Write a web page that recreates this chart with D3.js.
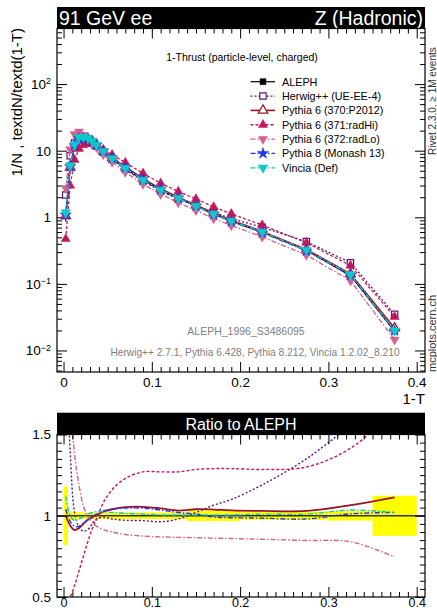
<!DOCTYPE html>
<html>
<head>
<meta charset="utf-8">
<script src="https://cdn.jsdelivr.net/npm/d3@7"></script>
<style>
  body { margin: 0; background: #fff; }
  text { font-family: "Liberation Sans", Arial, Helvetica, sans-serif; }
</style>
</head>
<body>
<svg id="chart" width="437" height="611"></svg>
<script>
// Bin edges and centres of 1-T
const binEdges = [0, 0.005, 0.01, 0.015, 0.02, 0.025, 0.03, 0.035, 0.04, 0.05, 0.06, 0.08, 0.10, 0.12, 0.14, 0.16, 0.18, 0.20, 0.25, 0.30, 0.35, 0.40];
const xCenters = [0.0025, 0.0075, 0.0125, 0.0175, 0.0225, 0.0275, 0.0325, 0.0375, 0.045, 0.055, 0.07, 0.09, 0.11, 0.13, 0.15, 0.17, 0.19, 0.225, 0.275, 0.325, 0.375];

// ALEPH data and relative uncertainty
const alephValues = [1.05, 6.0, 12.8, 16.2, 16.2, 15.4, 13.8, 12.0, 9.6, 7.5, 5.4, 3.6, 2.56, 1.92, 1.47, 1.11, 0.875, 0.595, 0.32, 0.133, 0.0194];
const alephRelErr = [0.18, 0.028, 0.025, 0.022, 0.02, 0.02, 0.02, 0.02, 0.02, 0.02, 0.02, 0.02, 0.02, 0.02, 0.033, 0.033, 0.033, 0.025, 0.025, 0.03, 0.123];

// MC / ALEPH ratios
const herwigRatio = [2.06, 1.4, 1.02, 0.93, 0.905, 0.915, 0.95, 0.98, 0.99, 0.98, 0.972, 0.97, 0.963, 0.98, 1.02, 1.065, 1.10, 1.19, 1.35, 1.56, 1.8];
const py6Ratio    = [1.0, 0.94, 0.912, 0.925, 0.95, 0.975, 0.99, 1.005, 1.025, 1.04, 1.053, 1.055, 1.045, 1.032, 1.04, 1.038, 1.033, 1.03, 1.03, 1.065, 1.113];
const radHiRatio  = [0.45, 0.50, 0.57, 0.66, 0.75, 0.84, 0.92, 0.98, 1.08, 1.16, 1.23, 1.27, 1.27, 1.27, 1.285, 1.29, 1.29, 1.285, 1.30, 1.415, 1.65];
const radLoRatio  = [2.6, 1.75, 1.38, 1.19, 1.06, 0.995, 0.96, 0.935, 0.915, 0.90, 0.885, 0.875, 0.87, 0.867, 0.865, 0.862, 0.86, 0.855, 0.848, 0.84, 0.747];
const py8Ratio    = [1.04, 0.965, 0.935, 0.935, 0.955, 0.975, 0.995, 1.01, 1.03, 1.04, 1.047, 1.047, 1.035, 1.02, 1.01, 0.992, 0.988, 0.985, 0.98, 1.012, 1.02];
const vinciaRatio = [1.12, 1.0, 0.97, 0.98, 0.995, 1.01, 1.02, 1.025, 1.025, 1.02, 1.015, 1.01, 1.005, 1.005, 1.005, 1.005, 1.005, 1.01, 1.01, 1.035, 1.02];

const mcNames = ["Herwig++ (UE-EE-4)", "Pythia 6 (370:P2012)", "Pythia 6 (371:radHi)", "Pythia 6 (372:radLo)", "Pythia 8 (Monash 13)", "Vincia (Def)"];

const xTicks = [0, 0.1, 0.2, 0.3, 0.4];
const yTicksMain = [0.01, 0.1, 1, 10, 100];
const yTicksRatio = [0.5, 1, 1.5];

// styles
const mcStyles = [
  { ratio: herwigRatio, color: "#551a80", dash: "2,2",     width: 1.3, sym: d3.symbolSquare,   size: 40, rot: 0,   open: true },
  { ratio: py6Ratio,    color: "#9a1426", dash: null,      width: 1.6, sym: d3.symbolTriangle, size: 40, rot: 0,   open: true },
  { ratio: radHiRatio,  color: "#c0185c", dash: "3,2",     width: 1.3, sym: d3.symbolTriangle, size: 36, rot: 0,   open: false },
  { ratio: radLoRatio,  color: "#d4608c", dash: "5,2,1.5,2", width: 1.3, sym: d3.symbolTriangle, size: 36, rot: 180, open: false },
  { ratio: py8Ratio,    color: "#2038e8", dash: "5,2,1.5,2", width: 1.3, sym: d3.symbolStar,     size: 40, rot: 0,   open: false },
  { ratio: vinciaRatio, color: "#10c8c8", dash: "5,2,1.5,2", width: 1.3, sym: d3.symbolTriangle, size: 40, rot: 180, open: false }
];
const mcSeries = mcNames.map((name, i) => ({
  name: name,
  ...mcStyles[i],
  values: alephValues.map((v, j) => v * mcStyles[i].ratio[j])
}));

const svg = d3.select("#chart");
const L = 57, R = 425;
const mainTop = 28.5, mainBot = 372;
const ratTop = 434.5, ratBot = 597;

const x = d3.scaleLinear().domain([-0.0074, 0.4094]).range([L, R]);
const y = d3.scaleLog().domain([0.00475, 684]).range([mainBot, mainTop]);
const yr = d3.scaleLinear().domain([0.5, 1.5]).range([ratBot, ratTop]);

const xMinor = d3.range(0, 41).map(i => i / 100).filter(v => !xTicks.includes(v));
const yMinorMain = [];
[-3, -2, -1, 0, 1, 2].forEach(e => {
  for (let k = 2; k <= 9; k++) {
    const v = k * Math.pow(10, e);
    if (v > 0.00475 && v < 684) yMinorMain.push(v);
  }
});
const yMinorRatio = d3.range(0, 21).map(i => 0.5 + i * 0.05).filter(v => ![0.5, 1, 1.5].some(t => Math.abs(t - v) < 1e-6));

function styleAxis(g) {
  g.select(".domain").remove();
  g.selectAll(".tick line").attr("stroke", "#000");
  g.selectAll(".tick text").attr("fill", "#000").attr("font-size", "13.5px")
    .attr("font-family", "Liberation Sans, Arial, sans-serif");
}

function logLabel(g) {
  g.selectAll(".tick text").each(function (d) {
    const e = Math.round(Math.log10(d));
    const t = d3.select(this).text("");
    if (e === 0) t.text("1");
    else if (e === 1) t.text("10");
    else {
      t.append("tspan").text("10");
      t.append("tspan").attr("dy", "-0.5em").attr("font-size", "9px").text(e < 0 ? "\u2212" + (-e) : e);
    }
  });
}

function drawFrameAxes(top, bot, yScale, yMajor, yMinor, xPad, yFormat) {
  // bottom
  const gb = svg.append("g").attr("transform", `translate(0,${bot})`)
    .call(d3.axisBottom(x).tickValues(xTicks).tickSize(-10).tickPadding(xPad).tickFormat(d3.format("")))
    .call(styleAxis);
  svg.append("g").attr("transform", `translate(0,${bot})`)
    .call(d3.axisBottom(x).tickValues(xMinor).tickSize(-5).tickFormat(""))
    .call(styleAxis);
  // top
  svg.append("g").attr("transform", `translate(0,${top})`)
    .call(d3.axisTop(x).tickValues(xTicks).tickSize(-10).tickFormat(""))
    .call(styleAxis);
  svg.append("g").attr("transform", `translate(0,${top})`)
    .call(d3.axisTop(x).tickValues(xMinor).tickSize(-5).tickFormat(""))
    .call(styleAxis);
  // left
  svg.append("g").attr("transform", `translate(${L},0)`)
    .call(d3.axisLeft(yScale).tickValues(yMajor).tickSize(-10).tickPadding(6).tickFormat(yFormat))
    .call(styleAxis)
    .attr("class", "yaxis");
  svg.append("g").attr("transform", `translate(${L},0)`)
    .call(d3.axisLeft(yScale).tickValues(yMinor).tickSize(-5).tickFormat(""))
    .call(styleAxis);
  // right
  svg.append("g").attr("transform", `translate(${R},0)`)
    .call(d3.axisRight(yScale).tickValues(yMajor).tickSize(-10).tickFormat(""))
    .call(styleAxis);
  svg.append("g").attr("transform", `translate(${R},0)`)
    .call(d3.axisRight(yScale).tickValues(yMinor).tickSize(-5).tickFormat(""))
    .call(styleAxis);
  svg.append("rect").attr("x", L).attr("y", top).attr("width", R - L).attr("height", bot - top)
    .attr("fill", "none").attr("stroke", "#000").attr("stroke-width", 1.2);
  return gb;
}

// ---------- main panel ----------
svg.append("rect").attr("x", L).attr("y", 7).attr("width", R - L).attr("height", 21.5).attr("fill", "#000");
svg.append("text").attr("x", L + 2).attr("y", 25).attr("fill", "#fff").attr("font-size", "19.5px").text("91 GeV ee");
svg.append("text").attr("x", R - 2).attr("y", 25).attr("fill", "#fff").attr("font-size", "19.5px")
  .attr("text-anchor", "end").text("Z (Hadronic)");

drawFrameAxes(mainTop, mainBot, y, yTicksMain, yMinorMain, 5, d => d);
svg.selectAll("g.yaxis").call(logLabel);

svg.append("text").attr("x", 242).attr("y", 61).attr("text-anchor", "middle").attr("font-size", "10.5px")
  .text("1-Thrust (particle-level, charged)");

const lineMain = d3.line().x((d, i) => x(xCenters[i])).y(d => y(d));

// ALEPH
svg.append("path").datum(alephValues).attr("d", lineMain)
  .attr("fill", "none").attr("stroke", "#000").attr("stroke-width", 1.2);
svg.append("g").selectAll("line").data(alephValues).enter().append("line")
  .attr("x1", (d, i) => x(xCenters[i])).attr("x2", (d, i) => x(xCenters[i]))
  .attr("y1", (d, i) => y(d * (1 + alephRelErr[i]))).attr("y2", (d, i) => y(d * (1 - alephRelErr[i])))
  .attr("stroke", "#000").attr("stroke-width", 1.2);
svg.append("g").selectAll("path").data(alephValues).enter().append("path")
  .attr("d", d3.symbol().type(d3.symbolSquare).size(36))
  .attr("transform", (d, i) => `translate(${x(xCenters[i])},${y(d)})`)
  .attr("fill", "#000");

mcSeries.forEach(s => {
  svg.append("path").datum(s.values).attr("d", lineMain)
    .attr("fill", "none").attr("stroke", s.color).attr("stroke-width", s.width)
    .attr("stroke-dasharray", s.dash);
  svg.append("g").selectAll("path").data(s.values).enter().append("path")
    .attr("d", d3.symbol().type(s.sym).size(s.size))
    .attr("transform", (d, i) => `translate(${x(xCenters[i])},${y(d)}) rotate(${s.rot})`)
    .attr("fill", s.open ? "#fff" : s.color).attr("stroke", s.color).attr("stroke-width", s.open ? 1.2 : 0.5);
});

// legend
const legendItems = [{ name: "ALEPH", color: "#000", dash: null, width: 1.2, sym: d3.symbolSquare, size: 36, rot: 0, open: false }].concat(mcSeries);
const leg = svg.append("g");
legendItems.forEach((s, i) => {
  const ly = 81.7 + i * 14.35;
  leg.append("line").attr("x1", 250.5).attr("x2", 275).attr("y1", ly).attr("y2", ly)
    .attr("stroke", s.color).attr("stroke-width", s.width).attr("stroke-dasharray", s.dash);
  leg.append("path").attr("d", d3.symbol().type(s.sym).size(s.size))
    .attr("transform", `translate(263,${ly}) rotate(${s.rot})`)
    .attr("fill", s.open ? "#fff" : s.color).attr("stroke", s.color).attr("stroke-width", s.open ? 1.2 : 0.5);
  leg.append("text").attr("x", 282).attr("y", ly + 4).attr("font-size", "10.8px").text(s.name);
});

svg.append("text").attr("x", 246).attr("y", 335).attr("text-anchor", "middle").attr("font-size", "10.5px")
  .attr("fill", "#808080").text("ALEPH_1996_S3486095");
svg.append("text").attr("x", 255).attr("y", 356).attr("text-anchor", "middle").attr("font-size", "10.2px")
  .attr("fill", "#808080").text("Herwig++ 2.7.1, Pythia 6.428, Pythia 8.212, Vincia 1.2.02_8.210");

// axis titles
svg.append("text").attr("transform", "translate(22,28) rotate(-90)").attr("text-anchor", "end")
  .attr("font-size", "15px").text("1/N , textdN/textd(1-T)");
svg.append("text").attr("x", R).attr("y", 404).attr("text-anchor", "end").attr("font-size", "15px").text("1-T");
svg.append("text").attr("transform", "translate(436,155) rotate(-90)").attr("text-anchor", "start")
  .attr("font-size", "10px").attr("fill", "#333").text("Rivet 2.3.0, \u2265 1M events");
svg.append("text").attr("transform", "translate(436,372) rotate(-90)").attr("text-anchor", "start")
  .attr("font-size", "11px").attr("fill", "#333").text("mcplots.cern.ch");

// ---------- ratio panel ----------
svg.append("rect").attr("x", L).attr("y", 412.7).attr("width", R - L).attr("height", ratTop - 412.7).attr("fill", "#000");
svg.append("text").attr("x", (L + R) / 2).attr("y", 430).attr("text-anchor", "middle").attr("fill", "#fff")
  .attr("font-size", "16px").text("Ratio to ALEPH");

svg.append("defs").append("clipPath").attr("id", "ratioClip").append("rect")
  .attr("x", L).attr("y", ratTop).attr("width", R - L).attr("height", ratBot - ratTop);
const gr = svg.append("g").attr("clip-path", "url(#ratioClip)");

gr.selectAll("rect.band").data(alephRelErr).enter().append("rect")
  .attr("x", (d, i) => x(binEdges[i])).attr("width", (d, i) => x(binEdges[i + 1]) - x(binEdges[i]))
  .attr("y", d => yr(1 + d)).attr("height", d => yr(1 - d) - yr(1 + d))
  .attr("fill", "#ffff00");
gr.append("line").attr("x1", L).attr("x2", R).attr("y1", yr(1)).attr("y2", yr(1))
  .attr("stroke", "#333").attr("stroke-width", 1.3);

const lineRatio = d3.line().curve(d3.curveCatmullRom).x((d, i) => x(xCenters[i])).y(d => yr(d));
mcSeries.forEach(s => {
  gr.append("path").datum(s.ratio).attr("d", lineRatio)
    .attr("fill", "none").attr("stroke", s.color).attr("stroke-width", s.dash ? 1.4 : 1.8)
    .attr("stroke-dasharray", s.dash);
});

const gRatX = drawFrameAxes(ratTop, ratBot, yr, yTicksRatio, yMinorRatio, 1.5, d3.format(""));
gRatX.selectAll(".tick text").attr("font-size", "12.5px");
</script>
</body>
</html>
